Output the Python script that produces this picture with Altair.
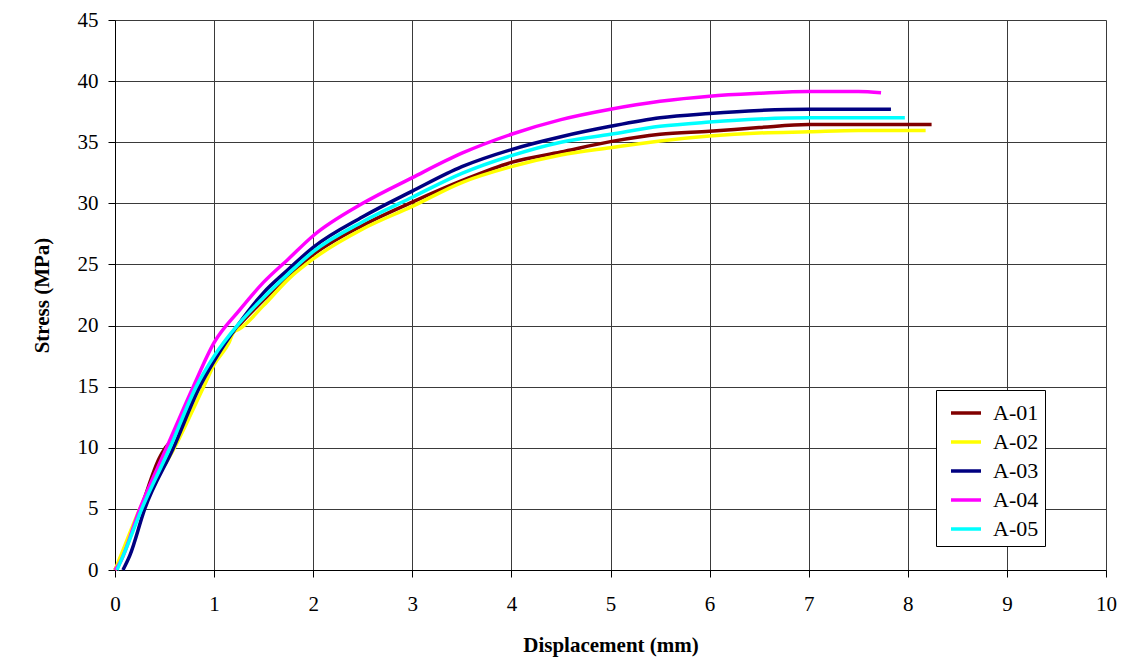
import altair as alt
import pandas as pd

series_names = ["A-01", "A-02", "A-03", "A-04", "A-05"]
series_colors = ["#800000", "#FFFF00", "#000080", "#FF00FF", "#00FFFF"]

a01_x = [0, 0.05, 0.25, 0.45, 0.5, 0.57, 0.84, 1.0, 1.25, 1.5, 1.75, 2, 2.5, 3, 3.5, 4, 4.5, 5, 5.5, 6, 6.5, 7, 7.5, 8, 8.24]
a01_y = [0, 0.8, 4.8, 9.2, 9.9, 10.6, 15.0, 17.3, 20.0, 22.1, 24.1, 25.8, 28.2, 30.1, 31.85, 33.35, 34.2, 35.05, 35.65, 35.9, 36.2, 36.45, 36.45, 36.45, 36.45]

a02_x = [0, 0.05, 0.25, 0.6, 0.895, 1.0, 1.15, 1.2, 1.25, 1.5, 1.75, 2, 2.5, 3, 3.5, 4, 4.5, 5, 5.5, 6, 6.5, 7, 7.5, 8.18]
a02_y = [0, 1.0, 5.0, 10.0, 15.0, 16.8, 18.6, 19.5, 19.7, 21.65, 23.8, 25.45, 27.9, 29.75, 31.7, 33.0, 33.95, 34.55, 35.1, 35.5, 35.75, 35.85, 35.95, 35.95]

a03_x = [0.08, 0.15, 0.3, 0.59, 0.855, 1.0, 1.25, 1.5, 1.75, 2, 2.5, 3, 3.5, 4, 4.5, 5, 5.5, 6, 6.5, 7, 7.5, 7.83]
a03_y = [0, 1.2, 5.0, 10.0, 15.0, 17.1, 20.15, 22.7, 24.6, 26.4, 28.9, 31.0, 33.0, 34.4, 35.45, 36.3, 37.0, 37.35, 37.6, 37.7, 37.7, 37.7]

a04_x = [0, 0.05, 0.25, 0.52, 0.79, 1.0, 1.25, 1.5, 1.75, 2, 2.5, 3, 3.5, 4, 4.5, 5, 5.5, 6, 6.5, 7, 7.5, 7.73]
a04_y = [0, 0.6, 5.0, 10.0, 15.0, 18.6, 21.2, 23.55, 25.45, 27.35, 30.0, 32.1, 34.1, 35.65, 36.85, 37.7, 38.35, 38.77, 39.0, 39.15, 39.15, 39.05]

a05_x = [0.02, 0.1, 0.27, 0.555, 0.82, 1.0, 1.25, 1.5, 1.75, 2, 2.5, 3, 3.5, 4, 4.5, 5, 5.5, 6, 6.5, 7, 7.5, 7.97]
a05_y = [0, 1.5, 5.0, 10.0, 15.0, 17.5, 20.15, 22.3, 24.25, 26.05, 28.5, 30.5, 32.45, 33.9, 35.0, 35.65, 36.3, 36.65, 36.9, 37.0, 37.0, 37.0]

x_ticks = list(range(0, 11))
y_ticks = list(range(0, 46, 5))

rows = []
for name, xs, ys in zip(series_names, [a01_x, a02_x, a03_x, a04_x, a05_x], [a01_y, a02_y, a03_y, a04_y, a05_y]):
    for i, (xv, yv) in enumerate(zip(xs, ys)):
        rows.append({"series": name, "x": xv, "y": yv, "order": i})
df = pd.DataFrame(rows)

FONT = "Liberation Serif"

chart = alt.Chart(df).mark_line(strokeWidth=3.5, interpolate="monotone").encode(
    x=alt.X("x:Q", scale=alt.Scale(domain=[0, 10], nice=False),
            axis=alt.Axis(title="Displacement (mm)", values=x_ticks, format="d",
                          grid=True, gridColor="#3a3a3a", gridWidth=1, labelFlush=False,
                          domainColor="black", tickColor="black", tickSize=7,
                          labelFont=FONT, labelFontSize=21, labelColor="black", labelPadding=16,
                          titleFont=FONT, titleFontSize=21, titleFontWeight="bold",
                          titleColor="black", titlePadding=20)),
    y=alt.Y("y:Q", scale=alt.Scale(domain=[0, 45], nice=False),
            axis=alt.Axis(title="Stress (MPa)", values=y_ticks, format="d",
                          grid=True, gridColor="#3a3a3a", gridWidth=1, labelFlush=False,
                          domainColor="black", tickColor="black", tickSize=7,
                          labelFont=FONT, labelFontSize=21, labelColor="black", labelPadding=10,
                          titleFont=FONT, titleFontSize=21, titleFontWeight="bold",
                          titleColor="black", titlePadding=25)),
    color=alt.Color("series:N", scale=alt.Scale(domain=series_names, range=series_colors),
                    legend=alt.Legend(title=None, orient="none", legendX=821, legendY=370,
                                      fillColor="white", strokeColor="black", padding=6,
                                      symbolType="stroke", symbolStrokeWidth=3.5, symbolSize=900,
                                      symbolOffset=7,
                                      labelFont=FONT, labelFontSize=22, labelColor="black",
                                      labelOffset=10, rowPadding=1)),
    order=alt.Order("order:Q"),
).properties(
    width=991, height=550,
    autosize=alt.AutoSizeParams(type="none"),
    padding={"left": 107, "top": 12, "right": 11, "bottom": 89},
).configure_view(stroke="black", strokeWidth=1).configure(background="white")

chart.save("out.html", embed_options={"renderer": "svg", "actions": False})
